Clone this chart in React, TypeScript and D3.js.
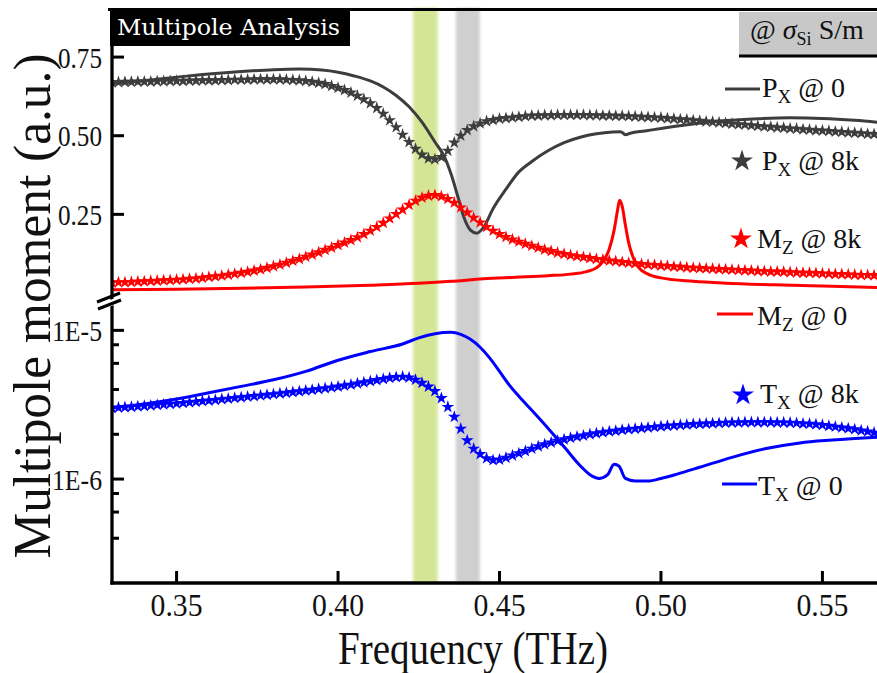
import React from "react";
import * as d3 from "d3";

const W = 877;
const H = 673;

// Frequency sweep (THz) of the starred 8k-conductivity series
const SWEEP_START = 0.33;
const SWEEP_STEP = 0.002;

// P_x @ 8k (a.u.)
const PX_8K = [
  0.670, 0.670, 0.671, 0.671, 0.672, 0.672, 0.672, 0.673, 0.673, 0.674,
  0.674, 0.674, 0.675, 0.675, 0.676, 0.676, 0.676, 0.677, 0.677, 0.678,
  0.678, 0.678, 0.679, 0.679, 0.679, 0.679, 0.679, 0.678, 0.677, 0.676,
  0.674, 0.671, 0.668, 0.664, 0.658, 0.652, 0.645, 0.637, 0.627, 0.616,
  0.603, 0.588, 0.570, 0.549, 0.527, 0.503, 0.480, 0.458, 0.440, 0.428,
  0.425, 0.432, 0.452, 0.478, 0.500, 0.518, 0.530, 0.539, 0.546, 0.550,
  0.554, 0.556, 0.558, 0.560, 0.562, 0.564, 0.564, 0.565, 0.565, 0.566,
  0.566, 0.566, 0.566, 0.566, 0.565, 0.565, 0.564, 0.564, 0.563, 0.563,
  0.562, 0.561, 0.560, 0.559, 0.558, 0.557, 0.555, 0.554, 0.552, 0.551,
  0.549, 0.547, 0.545, 0.544, 0.542, 0.540, 0.538, 0.536, 0.535, 0.533,
  0.531, 0.529, 0.528, 0.526, 0.525, 0.523, 0.522, 0.520, 0.519, 0.517,
  0.516, 0.515, 0.513, 0.512, 0.510, 0.509, 0.508, 0.506, 0.505, 0.503,
  0.502,
];

// M_z @ 8k (a.u.)
const MZ_8K = [
  0.033, 0.034, 0.034, 0.035, 0.036, 0.037, 0.038, 0.039, 0.040, 0.041,
  0.042, 0.043, 0.045, 0.046, 0.048, 0.051, 0.053, 0.055, 0.058, 0.061,
  0.064, 0.067, 0.071, 0.075, 0.080, 0.085, 0.090, 0.096, 0.102, 0.108,
  0.115, 0.122, 0.129, 0.137, 0.144, 0.152, 0.160, 0.168, 0.177, 0.187,
  0.198, 0.210, 0.223, 0.237, 0.251, 0.265, 0.280, 0.293, 0.303, 0.309,
  0.311, 0.307, 0.299, 0.287, 0.272, 0.256, 0.239, 0.224, 0.210, 0.198,
  0.187, 0.178, 0.170, 0.163, 0.156, 0.150, 0.144, 0.138, 0.133, 0.128,
  0.124, 0.120, 0.117, 0.114, 0.111, 0.108, 0.106, 0.103, 0.101, 0.098,
  0.096, 0.094, 0.092, 0.090, 0.089, 0.087, 0.086, 0.084, 0.083, 0.081,
  0.080, 0.079, 0.078, 0.077, 0.076, 0.075, 0.074, 0.073, 0.072, 0.071,
  0.070, 0.069, 0.068, 0.068, 0.067, 0.066, 0.065, 0.064, 0.064, 0.063,
  0.062, 0.061, 0.060, 0.060, 0.059, 0.058, 0.057, 0.057, 0.056, 0.056,
  0.055,
];

// T_x @ 8k (x 1e-6 a.u.)
const TX_8K = [
  3.00, 3.02, 3.04, 3.06, 3.08, 3.10, 3.12, 3.15, 3.17, 3.20,
  3.22, 3.25, 3.28, 3.31, 3.34, 3.37, 3.40, 3.44, 3.47, 3.51,
  3.54, 3.58, 3.61, 3.65, 3.68, 3.72, 3.76, 3.80, 3.84, 3.89,
  3.93, 3.98, 4.03, 4.08, 4.13, 4.18, 4.25, 4.31, 4.39, 4.47,
  4.55, 4.63, 4.71, 4.79, 4.85, 4.88, 4.82, 4.65, 4.43, 4.18,
  3.90, 3.50, 3.05, 2.62, 2.18, 1.82, 1.60, 1.47, 1.38, 1.34,
  1.35, 1.39, 1.44, 1.49, 1.54, 1.60, 1.66, 1.71, 1.76, 1.81,
  1.85, 1.89, 1.93, 1.96, 2.00, 2.03, 2.06, 2.09, 2.11, 2.14,
  2.16, 2.18, 2.20, 2.22, 2.24, 2.26, 2.28, 2.29, 2.31, 2.32,
  2.34, 2.35, 2.36, 2.37, 2.38, 2.39, 2.40, 2.40, 2.41, 2.41,
  2.41, 2.41, 2.41, 2.40, 2.40, 2.39, 2.38, 2.36, 2.35, 2.33,
  2.31, 2.28, 2.25, 2.22, 2.19, 2.16, 2.12, 2.09, 2.05, 2.01,
  1.97,
];

// P_x @ 0 (a.u.)
const PX_0_FREQ = [
  0.330, 0.340, 0.350, 0.360, 0.370, 0.380, 0.388, 0.395, 0.400, 0.405,
  0.410, 0.414, 0.418, 0.422, 0.426, 0.430, 0.433, 0.435, 0.437, 0.439,
  0.441, 0.443, 0.445, 0.448, 0.452, 0.456, 0.460, 0.465, 0.470, 0.475,
  0.480, 0.485, 0.4875, 0.489, 0.4905, 0.495, 0.500, 0.510, 0.520, 0.530,
  0.540, 0.550, 0.560, 0.570,
];
const PX_0 = [
  0.666, 0.675, 0.686, 0.696, 0.704, 0.710, 0.712, 0.709, 0.702, 0.690,
  0.674, 0.655, 0.628, 0.592, 0.543, 0.480, 0.432, 0.378, 0.310, 0.240,
  0.200, 0.190, 0.208, 0.268, 0.330, 0.385, 0.418, 0.452, 0.478, 0.495,
  0.506, 0.512, 0.513, 0.503, 0.508, 0.515, 0.523, 0.537, 0.548, 0.554,
  0.557, 0.555, 0.549, 0.540,
];

// M_z @ 0 (a.u.)
const MZ_0_FREQ = [
  0.330, 0.350, 0.370, 0.390, 0.410, 0.425, 0.435, 0.445, 0.455, 0.465,
  0.472, 0.477, 0.480, 0.482, 0.484, 0.4855, 0.4865, 0.4872, 0.488, 0.489,
  0.490, 0.4915, 0.493, 0.496, 0.500, 0.510, 0.520, 0.535, 0.550, 0.570,
];
const MZ_0 = [
  0.010, 0.012, 0.015, 0.019, 0.025, 0.031, 0.037, 0.045, 0.050, 0.055,
  0.060, 0.068, 0.080, 0.100, 0.140, 0.200, 0.260, 0.295, 0.275, 0.215,
  0.160, 0.110, 0.082, 0.060, 0.048, 0.037, 0.031, 0.026, 0.022, 0.017,
];

// T_x @ 0 (x 1e-6 a.u.)
const TX_0_FREQ = [
  0.330, 0.340, 0.350, 0.360, 0.370, 0.380, 0.390, 0.400, 0.410, 0.420,
  0.425, 0.430, 0.435, 0.438, 0.441, 0.444, 0.447, 0.450, 0.453, 0.456,
  0.460, 0.465, 0.470, 0.475, 0.478, 0.481, 0.4835, 0.4855, 0.487, 0.489,
  0.492, 0.496, 0.500, 0.505, 0.512, 0.522, 0.533, 0.543, 0.553, 0.570,
];
const TX_0 = [
  3.02, 3.20, 3.45, 3.80, 4.20, 4.65, 5.30, 6.30, 7.20, 8.10,
  8.90, 9.50, 9.70, 9.40, 8.70, 7.70, 6.50, 5.30, 4.30, 3.60,
  2.90, 2.20, 1.65, 1.23, 1.07, 1.01, 1.07, 1.26, 1.22, 1.01,
  0.97, 0.97, 1.01, 1.08, 1.20, 1.40, 1.61, 1.75, 1.83, 1.93,
];

// Highlighted frequency windows (THz)
const GREEN_BAND = [0.4232, 0.4309];
const GRAY_BAND = [0.4365, 0.4439];

// Axis ticks
const X_TICKS = [0.35, 0.4, 0.45, 0.5, 0.55];
const UPPER_TICKS = [0.25, 0.5, 0.75];
const LOWER_TICKS = [1e-6, 1e-5];
const LOWER_TICK_LABELS = ["1E-6", "1E-5"];
const LOWER_MINOR_TICKS = [4e-7, 6e-7, 8e-7, 2e-6, 4e-6, 6e-6, 8e-6];

const SERIF = "'Liberation Serif', 'Times New Roman', serif";
const GRAY = "#3d3d3d";
const RED = "#ff0000";
const BLUE = "#0000ff";

const LEFT = 112;
const TOP = 8;
const BOTTOM = 583;

const x = d3.scaleLinear().domain([0.33, 0.57]).range([LEFT, 887]);
const yUp = d3.scaleLinear().domain([0, 0.906]).range([293, TOP]);
const yLo = d3.scaleLog().domain([2e-7, 1.6e-5]).range([BOTTOM, 300]);

const sweep = PX_8K.map((_, i) => SWEEP_START + i * SWEEP_STEP);

const starPath = d3.symbol().type(d3.symbolStar).size(50)() as string;
const legendStar = d3.symbol().type(d3.symbolStar).size(150)() as string;

function linePath(freqs: number[], vals: number[], y: (v: number) => number) {
  const pts = freqs.map((f, i) => [f, vals[i]] as [number, number]);
  return d3
    .line<[number, number]>()
    .x((d) => x(d[0]))
    .y((d) => y(d[1]))
    .curve(d3.curveMonotoneX)(pts) as string;
}

function Stars({ vals, y, color }: { vals: number[]; y: (v: number) => number; color: string }) {
  return (
    <g fill={color}>
      {vals.map((v, i) => (
        <path key={i} d={starPath} transform={`translate(${x(sweep[i])},${y(v)})`} />
      ))}
    </g>
  );
}

function LegendText({ x0, y0, main, sub, rest }: { x0: number; y0: number; main: string; sub: string; rest: string }) {
  return (
    <text x={x0} y={y0} fontFamily={SERIF} fontSize={28} fill="#111">
      {main}
      <tspan fontSize={19} dy={6}>
        {sub}
      </tspan>
      <tspan dy={-6}>{"\u00a0@\u00a0" + rest}</tspan>
    </text>
  );
}

export default function App() {
  const up = (v: number) => yUp(v);
  const lo = (v: number) => yLo(v * 1e-6);
  return (
    <svg width={W} height={H} style={{ position: "absolute", left: 0, top: 0, background: "#fff" }}>
      <defs>
        <filter id="soft" x="-50%" y="-5%" width="200%" height="110%">
          <feGaussianBlur stdDeviation="1.6" />
        </filter>
        <clipPath id="plot">
          <rect x={LEFT} y={TOP} width={W - LEFT} height={BOTTOM - TOP} />
        </clipPath>
      </defs>
      <rect width={W} height={H} fill="#fff" />

      {/* highlighted frequency windows */}
      <g filter="url(#soft)">
        <rect x={x(GREEN_BAND[0])} y={TOP} width={x(GREEN_BAND[1]) - x(GREEN_BAND[0])} height={BOTTOM - TOP} fill="#d4e696" />
        <rect x={x(GRAY_BAND[0])} y={TOP} width={x(GRAY_BAND[1]) - x(GRAY_BAND[0])} height={BOTTOM - TOP} fill="#cfcfcf" />
      </g>

      <g clipPath="url(#plot)">
        <path d={linePath(PX_0_FREQ, PX_0, up)} fill="none" stroke={GRAY} strokeWidth={3} />
        <path d={linePath(MZ_0_FREQ, MZ_0, up)} fill="none" stroke={RED} strokeWidth={3} />
        <path d={linePath(TX_0_FREQ, TX_0, lo)} fill="none" stroke={BLUE} strokeWidth={3} />
        <Stars vals={PX_8K} y={up} color={GRAY} />
        <Stars vals={MZ_8K} y={up} color={RED} />
        <Stars vals={TX_8K} y={lo} color={BLUE} />
      </g>

      {/* frame */}
      <line x1={108} x2={W} y1={9.5} y2={9.5} stroke="#000" strokeWidth={3} />
      <line x1={LEFT} x2={LEFT} y1={8} y2={BOTTOM + 1.5} stroke="#000" strokeWidth={3.3} />
      <line x1={LEFT - 1.6} x2={W} y1={BOTTOM} y2={BOTTOM} stroke="#000" strokeWidth={3.5} />

      {/* axis break */}
      <polygon points={`${LEFT - 2},${300} ${LEFT + 2},${298.5} ${LEFT + 2},${305} ${LEFT - 2},${306.5}`} fill="#fff" />
      <line x1={97} y1={302} x2={120} y2={293} stroke="#000" strokeWidth={3.2} />
      <line x1={98} y1={309} x2={121} y2={300} stroke="#000" strokeWidth={3.2} />

      {/* x axis */}
      {X_TICKS.map((t) => (
        <g key={t}>
          <line x1={x(t)} x2={x(t)} y1={BOTTOM} y2={BOTTOM - 12} stroke="#000" strokeWidth={3} />
          <text x={x(t)} y={616} textAnchor="middle" fontFamily={SERIF} fontSize={32} textLength={52} lengthAdjust="spacingAndGlyphs" fill="#111">
            {t.toFixed(2)}
          </text>
        </g>
      ))}
      <text x={473} y={664} textAnchor="middle" fontFamily={SERIF} fontSize={47} textLength={270} lengthAdjust="spacingAndGlyphs" fill="#111">
        Frequency (THz)
      </text>

      {/* upper y axis (linear) */}
      {UPPER_TICKS.map((t) => (
        <g key={t}>
          <line x1={LEFT} x2={LEFT + 12} y1={yUp(t)} y2={yUp(t)} stroke="#000" strokeWidth={3} />
          <text x={102} y={yUp(t) + 10.5} textAnchor="end" fontFamily={SERIF} fontSize={30} textLength={44} lengthAdjust="spacingAndGlyphs" fill="#111">
            {t.toFixed(2)}
          </text>
        </g>
      ))}

      {/* lower y axis (log) */}
      {LOWER_TICKS.map((t, i) => (
        <g key={t}>
          <line x1={LEFT} x2={LEFT + 12} y1={yLo(t)} y2={yLo(t)} stroke="#000" strokeWidth={3} />
          <text x={102} y={yLo(t) + 10.5} textAnchor="end" fontFamily={SERIF} fontSize={30} textLength={50} lengthAdjust="spacingAndGlyphs" fill="#111">
            {LOWER_TICK_LABELS[i]}
          </text>
        </g>
      ))}
      {LOWER_MINOR_TICKS.map((t) => (
        <line key={t} x1={LEFT} x2={LEFT + 7} y1={yLo(t)} y2={yLo(t)} stroke="#000" strokeWidth={3} />
      ))}

      <text
        transform={`translate(50, 306) rotate(-90)`}
        textAnchor="middle"
        fontFamily={SERIF}
        fontSize={52}
        textLength={505}
        lengthAdjust="spacingAndGlyphs"
        fill="#111"
      >
        Multipole moment (a.u.)
      </text>

      {/* title */}
      <rect x={110} y={8} width={240} height={38} fill="#000" />
      <text x={117} y={35} fontFamily="'DejaVu Serif', serif" fontSize={23} textLength={223} lengthAdjust="spacingAndGlyphs" fill="#fff">
        Multipole Analysis
      </text>

      {/* legend header */}
      <rect x={739} y={12} width={W - 739} height={43} fill="#c8c8c8" />
      <line x1={739} x2={W} y1={56} y2={56} stroke="#000" strokeWidth={3} />
      <text x={750} y={39} fontFamily={SERIF} fontSize={28} fill="#111">
        @{"\u00a0"}
        <tspan fontStyle="italic">σ</tspan>
        <tspan fontSize={18} dy={6}>
          Si
        </tspan>
        <tspan dy={-6}>{"\u00a0S/m"}</tspan>
      </text>

      {/* legend entries */}
      <line x1={725} x2={760} y1={89} y2={89} stroke={GRAY} strokeWidth={3} />
      <LegendText x0={762} y0={97} main="P" sub="X" rest="0" />

      <path d={legendStar} transform="translate(742,161)" fill={GRAY} />
      <LegendText x0={762} y0={170} main="P" sub="X" rest="8k" />

      <path d={legendStar} transform="translate(741,239)" fill={RED} />
      <LegendText x0={757} y0={248} main="M" sub="Z" rest="8k" />

      <line x1={717} x2={753} y1={314} y2={314} stroke={RED} strokeWidth={3} />
      <LegendText x0={757} y0={325} main="M" sub="Z" rest="0" />

      <path d={legendStar} transform="translate(743,395)" fill={BLUE} />
      <LegendText x0={760} y0={403} main="T" sub="X" rest="8k" />

      <line x1={722} x2={757} y1={484} y2={484} stroke={BLUE} strokeWidth={3} />
      <LegendText x0={758} y0={495} main="T" sub="X" rest="0" />
    </svg>
  );
}
